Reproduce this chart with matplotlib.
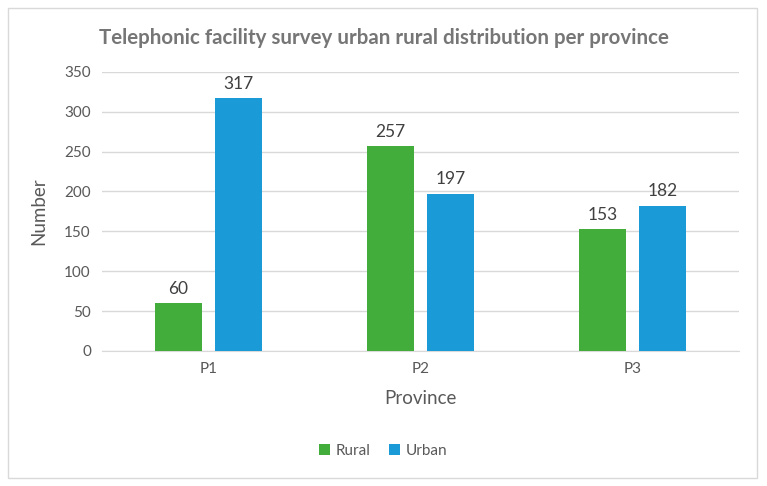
import matplotlib.pyplot as plt
import numpy as np

# Data
provinces = ["P1", "P2", "P3"]
rural = [60, 257, 153]
urban = [317, 197, 182]
yticks = [0, 50, 100, 150, 200, 250, 300, 350]

plt.rcParams['font.family'] = ['Lato', 'DejaVu Sans']

fig = plt.figure(figsize=(7.67, 4.86), dpi=100)
ax = fig.add_axes([0.133, 0.278, 0.8305, 0.574])

# outer frame like an Excel chart
fig.patches.append(plt.Rectangle((8/767, 8/486), 749/767, 470/486, transform=fig.transFigure,
                                 fill=False, edgecolor='#d9d9d9', linewidth=1))

x = np.arange(len(provinces))
w = 0.222
off = 0.1415
b1 = ax.bar(x - off, rural, w, color='#43ad3b', label='Rural', zorder=3)
b2 = ax.bar(x + off, urban, w, color='#1a9ad7', label='Urban', zorder=3)

for bars, vals in ((b1, rural), (b2, urban)):
    for r, v in zip(bars, vals):
        ax.text(r.get_x() + r.get_width() / 2, v + 8, str(v), ha='center', va='bottom',
                fontsize=12.5, color='#404040')

ax.set_xlim(-0.5, 2.5)
ax.set_ylim(0, 350)
ax.set_yticks(yticks)
ax.set_xticks(x)
ax.set_xticklabels(provinces)
ax.grid(axis='y', color='#d9d9d9', linewidth=1, zorder=0)
ax.tick_params(length=0, labelsize=11, colors='#595959', pad=8)
for s in ['top', 'right', 'left']:
    ax.spines[s].set_visible(False)
ax.spines['bottom'].set_color('#d9d9d9')

ax.set_xlabel("Province", fontsize=13.5, color='#595959', labelpad=10)
ax.set_ylabel("Number", fontsize=13.5, color='#595959', labelpad=12)
fig.text(0.5 * (97 + 670) / 767, 1 - 38 / 486,
         "Telephonic facility survey urban rural distribution per province",
         ha='center', va='center', fontsize=14.8, fontweight='bold', color='#767676')

fig.legend(loc='center', bbox_to_anchor=(0.5, 1 - 451 / 486), ncol=2, frameon=False,
           fontsize=11, labelcolor='#595959', handlelength=0.7, handleheight=0.7,
           handletextpad=0.4, columnspacing=1.2)

fig.savefig("out.png", dpi=100)
